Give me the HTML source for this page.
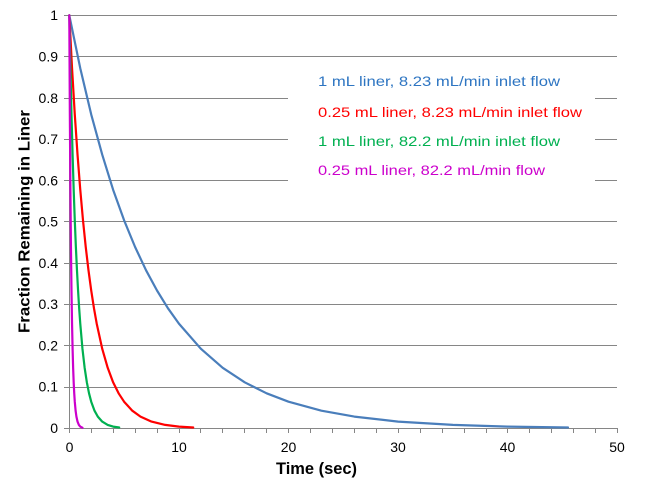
<!DOCTYPE html>
<html>
<head>
<meta charset="utf-8">
<style>
html,body{margin:0;padding:0;background:#fff;}
svg{display:block;}
text{font-family:"Liberation Sans", Arial, sans-serif;}
</style>
</head>
<body>
<svg width="653" height="494" viewBox="0 0 653 494" xmlns="http://www.w3.org/2000/svg">
<rect width="653" height="494" fill="#fff"/>
<!-- gridlines -->
<g stroke="#868686" stroke-width="1" fill="none" shape-rendering="crispEdges">
<line x1="64" y1="15.5" x2="617" y2="15.5"/>
<line x1="64" y1="56.5" x2="617" y2="56.5"/>
<line x1="64" y1="98.5" x2="288" y2="98.5"/><line x1="595" y1="98.5" x2="617" y2="98.5"/>
<line x1="64" y1="139.5" x2="288" y2="139.5"/><line x1="595" y1="139.5" x2="617" y2="139.5"/>
<line x1="64" y1="180.5" x2="288" y2="180.5"/><line x1="595" y1="180.5" x2="617" y2="180.5"/>
<line x1="64" y1="221.5" x2="617" y2="221.5"/>
<line x1="64" y1="263.5" x2="617" y2="263.5"/>
<line x1="64" y1="304.5" x2="617" y2="304.5"/>
<line x1="64" y1="345.5" x2="617" y2="345.5"/>
<line x1="64" y1="387.5" x2="617" y2="387.5"/>
<line x1="64" y1="428.5" x2="617" y2="428.5"/>
<line x1="69.5" y1="15" x2="69.5" y2="428"/>
<!-- x ticks -->
<line x1="69.5" y1="428" x2="69.5" y2="433"/>
<line x1="91.5" y1="428" x2="91.5" y2="433"/>
<line x1="113.5" y1="428" x2="113.5" y2="433"/>
<line x1="135.5" y1="428" x2="135.5" y2="433"/>
<line x1="157.5" y1="428" x2="157.5" y2="433"/>
<line x1="179.5" y1="428" x2="179.5" y2="433"/>
<line x1="200.5" y1="428" x2="200.5" y2="433"/>
<line x1="222.5" y1="428" x2="222.5" y2="433"/>
<line x1="244.5" y1="428" x2="244.5" y2="433"/>
<line x1="266.5" y1="428" x2="266.5" y2="433"/>
<line x1="288.5" y1="428" x2="288.5" y2="433"/>
<line x1="310.5" y1="428" x2="310.5" y2="433"/>
<line x1="332.5" y1="428" x2="332.5" y2="433"/>
<line x1="354.5" y1="428" x2="354.5" y2="433"/>
<line x1="376.5" y1="428" x2="376.5" y2="433"/>
<line x1="398.5" y1="428" x2="398.5" y2="433"/>
<line x1="420.5" y1="428" x2="420.5" y2="433"/>
<line x1="442.5" y1="428" x2="442.5" y2="433"/>
<line x1="464.5" y1="428" x2="464.5" y2="433"/>
<line x1="486.5" y1="428" x2="486.5" y2="433"/>
<line x1="507.5" y1="428" x2="507.5" y2="433"/>
<line x1="529.5" y1="428" x2="529.5" y2="433"/>
<line x1="551.5" y1="428" x2="551.5" y2="433"/>
<line x1="573.5" y1="428" x2="573.5" y2="433"/>
<line x1="595.5" y1="428" x2="595.5" y2="433"/>
<line x1="617.5" y1="428" x2="617.5" y2="433"/>
</g>
<!-- y labels -->
<g font-size="14" fill="#000" text-anchor="end">
<text x="58" y="20">1</text>
<text x="58" y="61.5">0.9</text>
<text x="58" y="103">0.8</text>
<text x="58" y="144">0.7</text>
<text x="58" y="185.5">0.6</text>
<text x="58" y="226.5">0.5</text>
<text x="58" y="268">0.4</text>
<text x="58" y="309">0.3</text>
<text x="58" y="350.5">0.2</text>
<text x="58" y="391.5">0.1</text>
<text x="58" y="433">0</text>
</g>
<!-- x labels -->
<g font-size="14" fill="#000" text-anchor="middle">
<text x="69.5" y="452">0</text>
<text x="179" y="452">10</text>
<text x="288.5" y="452">20</text>
<text x="398" y="452">30</text>
<text x="507.5" y="452">40</text>
<text x="617" y="452">50</text>
</g>
<!-- axis titles -->
<text x="316.5" y="474" font-size="17" font-weight="bold" text-anchor="middle" textLength="81" lengthAdjust="spacingAndGlyphs">Time (sec)</text>
<text transform="translate(29.5,221.5) rotate(-90)" x="0" y="0" font-size="16" font-weight="bold" text-anchor="middle" textLength="223" lengthAdjust="spacingAndGlyphs">Fraction Remaining in Liner</text>
<!-- series -->
<g fill="none" stroke-width="2.2" stroke-linejoin="round" stroke-linecap="round">
<path stroke="#4A7EBB" d="M69.3,15.3 L80.26,68.2 L91.2,114.4 L102.2,154.6 L113.1,189.7 L124.1,220.3 L135.1,247.0 L146.0,270.2 L157.0,290.5 L167.9,308.2 L178.9,323.6 L200.8,348.7 L222.7,367.8 L244.7,382.3 L266.6,393.3 L288.5,401.7 L321.4,410.7 L354.3,416.6 L398.1,421.6 L452.9,424.9 L507.7,426.6 L568.0,427.5"/>
<path stroke="#FF0000" d="M69.3,15.3 L72.04,68.2 L74.78,114.4 L77.52,154.6 L80.26,189.7 L83.0,220.3 L85.74,247.0 L88.48,270.2 L91.22,290.5 L93.96,308.2 L96.7,323.6 L102.2,348.7 L107.7,367.8 L113.1,382.3 L118.6,393.3 L124.1,401.7 L132.3,410.7 L140.5,416.6 L151.5,421.6 L165.2,424.9 L178.9,426.6 L193.2,427.5"/>
<path stroke="#00B050" d="M69.3,15.3 L70.4,68.2 L71.49,114.4 L72.59,154.6 L73.68,189.7 L74.78,220.3 L75.88,247.0 L76.97,270.2 L78.07,290.5 L79.16,308.2 L80.26,323.6 L82.45,348.7 L84.64,367.8 L86.84,382.3 L89.03,393.3 L91.22,401.7 L94.51,410.7 L97.8,416.6 L102.2,421.6 L107.7,424.9 L113.1,426.6 L119.2,427.5"/>
<path stroke="#CC00CC" d="M69.3,15.3 L69.85,114.4 L70.4,189.7 L70.94,247.0 L71.49,290.5 L72.04,323.6 L72.59,348.7 L73.13,367.8 L73.68,382.3 L74.23,393.3 L74.78,401.7 L75.6,410.7 L76.42,416.6 L77.52,421.6 L78.89,424.9 L80.26,426.6 L82.45,427.7"/>
</g>
<!-- legend -->
<g font-size="14">
<text x="318" y="86" fill="#2E75C2" textLength="242" lengthAdjust="spacingAndGlyphs">1 mL liner, 8.23 mL/min inlet flow</text>
<text x="318" y="117" fill="#FF0000" textLength="264" lengthAdjust="spacingAndGlyphs">0.25 mL liner, 8.23 mL/min inlet flow</text>
<text x="318" y="146" fill="#00B050" textLength="242" lengthAdjust="spacingAndGlyphs">1 mL liner, 82.2 mL/min inlet flow</text>
<text x="318" y="175" fill="#CC00CC" textLength="227" lengthAdjust="spacingAndGlyphs">0.25 mL liner, 82.2 mL/min flow</text>
</g>
</svg>
</body>
</html>
